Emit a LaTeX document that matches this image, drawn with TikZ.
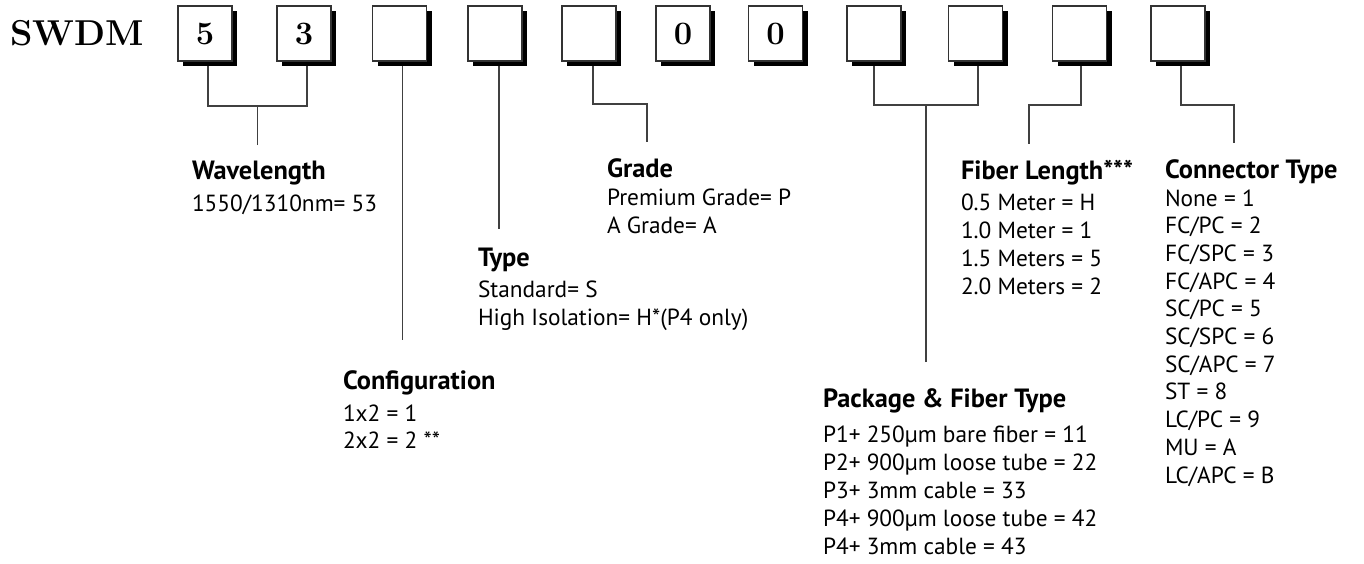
\documentclass[tikz,border=0pt]{standalone}
\usepackage{fontspec}
\newfontfamily\ptsans{PT Sans}
\usetikzlibrary{calc,shadows}
\tikzset{
  codebox/.style={draw=black!80, line width=1pt, fill=white, minimum width=40.5pt,
    minimum height=41.25pt, inner sep=0pt, outer sep=0pt,
    font=\bfseries\fontsize{24.5}{25}\selectfont,
    drop shadow={shadow xshift=3.75pt, shadow yshift=-3.75pt, opacity=1, fill=black}},
  conn/.style={draw=black!75, line width=0.9pt},
  ttl/.style={anchor=base west, inner sep=0pt, outer sep=0pt, font=\ptsans\bfseries\fontsize{19.8}{22}\selectfont},
  itm/.style={anchor=base west, inner sep=0pt, outer sep=0pt, font=\ptsans\fontsize{17.5}{20}\selectfont},
}
\begin{document}
\begin{tikzpicture}[x=0.75pt, y=-0.75pt]
\useasboundingbox (0,0) rectangle (1364,564);
\node[anchor=base west, inner sep=0pt, font=\bfseries\fontsize{27}{28}\selectfont] (swdm) at (10,45) {SWDM};
% code boxes
\node[codebox] (b1) at (205,33.5) {5};
\node[codebox] (b2) at (304,33.5) {3};
\node[codebox] (b3) at (399.5,33.5) {};
\node[codebox] (b4) at (495,33.5) {};
\node[codebox] (b5) at (589,33.5) {};
\node[codebox] (b6) at (683,33.5) {0};
\node[codebox] (b7) at (775.5,33.5) {0};
\node[codebox] (b8) at (874,33.5) {};
\node[codebox] (b9) at (975.5,33.5) {};
\node[codebox] (b10) at (1079.5,33.5) {};
\node[codebox] (b11) at (1178,33.5) {};
% connectors
\coordinate (wl-end) at ($(b1.south)!0.5!(b2.south)+(3,84)$);
\draw[conn] ($(b1.south)+(3,5)$) -- ++(0,40) -| ($(b2.south)+(3,5)$);
\draw[conn] (wl-end) -- ++(0,-39);
\coordinate (cf-end) at ($(b3.south)+(3,279)$);
\draw[conn] ($(b3.south)+(3,5)$) -- (cf-end);
\coordinate (ty-end) at ($(b4.south)+(4,168)$);
\draw[conn] ($(b4.south)+(4,5)$) -- (ty-end);
\coordinate (gr-end) at ($(b5.south)+(58,81)$);
\draw[conn] ($(b5.south)+(4,5)$) -- ++(0,38) -| (gr-end);
\coordinate (pk-end) at (926,362);
\draw[conn] ($(b8.south)+(0,5)$) -- ++(0,39) -| ($(b9.south)+(2.5,5)$);
\draw[conn] (pk-end) -- ++(0,-257);
\coordinate (fl-end) at ($(b10.south)+(-50.5,83)$);
\draw[conn] ($(b10.south)+(1.5,5)$) -- ++(0,39) -| (fl-end);
\coordinate (ct-end) at ($(b11.south)+(56,82)$);
\draw[conn] ($(b11.south)+(3,5)$) -- ++(0,39) -| (ct-end);
% Wavelength
\node[ttl] (wl-t) at (192,179) {Wavelength};
\node[itm] (wl-1) at (192,211) {1550/1310nm= 53};
% Configuration
\node[ttl] (cf-t) at (343,389) {Configuration};
\foreach [count=\i] \t in {{1x2 = 1},{2x2 = 2 **}}
  \node[itm] (cf-\i) at (343,{421+27.5*(\i-1)}) {\t};
% Type
\node[ttl] (ty-t) at (478,266) {Type};
\foreach [count=\i] \t in {{Standard= S},{High Isolation= H*(P4 only)}}
  \node[itm] (ty-\i) at (478,{297+28*(\i-1)}) {\t};
% Grade
\node[ttl] (gr-t) at (607,177) {Grade};
\foreach [count=\i] \t in {{Premium Grade= P},{A Grade= A}}
  \node[itm] (gr-\i) at (607,{205+28*(\i-1)}) {\t};
% Package
\node[ttl] (pk-t) at (823,407) {Package \& Fiber Type};
\foreach [count=\i] \t in {{P1+ 250µm bare fiber = 11},{P2+ 900µm loose tube = 22},{P3+ 3mm cable = 33},{P4+ 900µm loose tube = 42},{P4+ 3mm cable = 43}}
  \node[itm] (pk-\i) at (823,{442+28.2*(\i-1)}) {\t};
% Fiber length
\node[ttl] (fl-t) at (961,179) {Fiber Length***};
\foreach [count=\i] \t in {{0.5 Meter = H},{1.0 Meter = 1},{1.5 Meters = 5},{2.0 Meters = 2}}
  \node[itm] (fl-\i) at (961,{210+28.3*(\i-1)}) {\t};
% Connector type
\node[ttl] (ct-t) at (1165,178) {Connector Type};
\foreach [count=\i] \t in {{None = 1},{FC/PC = 2},{FC/SPC = 3},{FC/APC = 4},{SC/PC = 5},{SC/SPC = 6},{SC/APC = 7},{ST = 8},{LC/PC = 9},{MU = A},{LC/APC = B}}
  \node[itm] (ct-\i) at (1165,{206+27.7*(\i-1)}) {\t};
\end{tikzpicture}
\end{document}
